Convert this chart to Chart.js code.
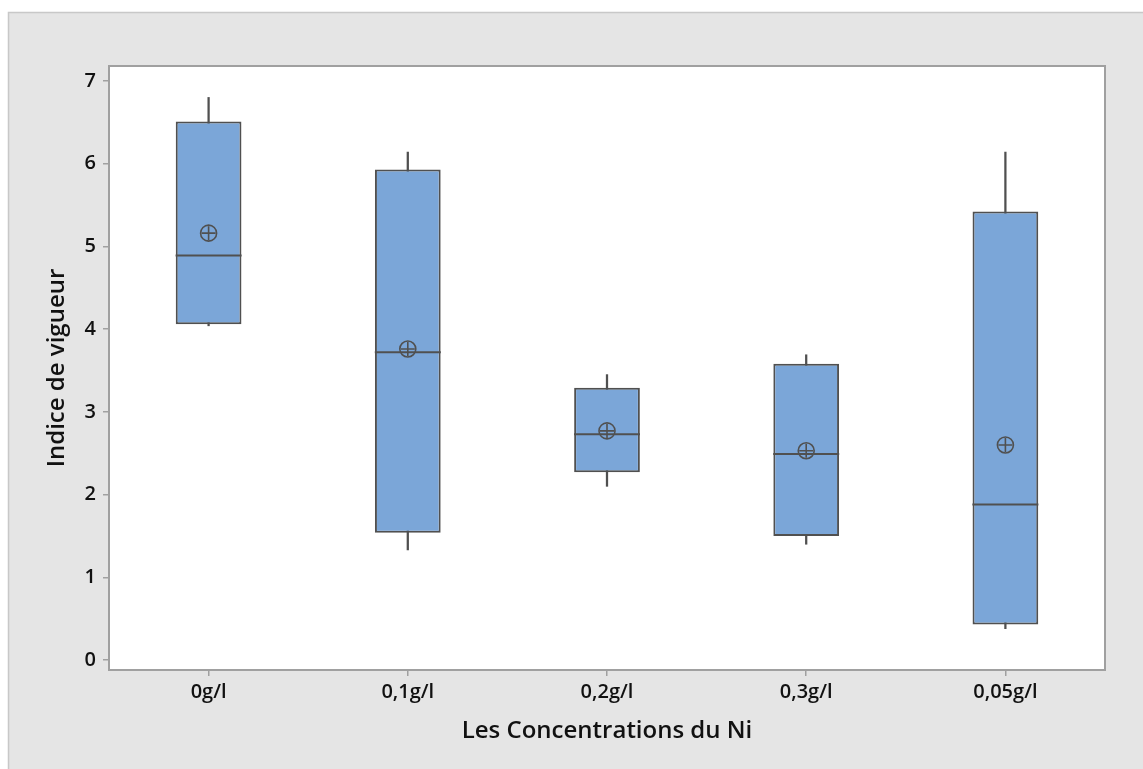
<!DOCTYPE html>
<html><head><meta charset="utf-8">
<script src="https://cdn.jsdelivr.net/npm/chart.js@4"></script>
<style>html,body{margin:0;padding:0;background:#fff}canvas{display:block}</style>
</head><body>
<canvas id="c" width="1143" height="769"></canvas>
<script>
const categories = ['0g/l', '0,1g/l', '0,2g/l', '0,3g/l', '0,05g/l'];
const whiskerMin = [4.04, 1.33, 2.10, 1.40, 0.38];
const q1 = [4.06, 1.54, 2.27, 1.50, 0.43];
const median = [4.89, 3.72, 2.73, 2.49, 1.88];
const q3 = [6.51, 5.93, 3.29, 3.58, 5.42];
const whiskerMax = [6.80, 6.14, 3.45, 3.69, 6.14];
const means = [5.16, 3.76, 2.77, 2.53, 2.60];
const yTicks = [0, 1, 2, 3, 4, 5, 6, 7];

const EDGE = '#505050';
const FILL = '#7ba6d8';

const backdrop = {
  id: 'backdrop',
  beforeDraw(chart) {
    const {ctx, width, height, chartArea: a} = chart;
    ctx.save();
    ctx.fillStyle = '#ffffff';
    ctx.fillRect(0, 0, width, height);
    ctx.fillStyle = '#e5e5e5';
    ctx.fillRect(8, 12, width, height);
    ctx.strokeStyle = '#c8c8c8';
    ctx.lineWidth = 1.5;
    ctx.beginPath();
    ctx.moveTo(8.5, height); ctx.lineTo(8.5, 12.5); ctx.lineTo(width, 12.5);
    ctx.stroke();
    ctx.fillStyle = '#ffffff';
    ctx.fillRect(a.left, a.top, a.right - a.left, a.bottom - a.top);
    ctx.restore();
  },
  afterDraw(chart) {
    const {ctx, chartArea: a} = chart;
    ctx.save();
    ctx.strokeStyle = '#a0a0a0';
    ctx.lineWidth = 2;
    ctx.strokeRect(a.left, a.top, a.right - a.left, a.bottom - a.top);
    ctx.restore();
  }
};

const tickFont = {family: "'Open Sans', 'Noto Sans', sans-serif", size: 20, weight: '600'};
const titleFont = {family: "'Open Sans', 'Noto Sans', sans-serif", size: 24, weight: '600'};

new Chart(document.getElementById('c'), {
  type: 'bar',
  data: {
    labels: categories,
    datasets: [
      {
        type: 'line', data: means, showLine: false, pointStyle: 'cross',
        pointRadius: 7, pointBorderWidth: 1.6, pointBorderColor: EDGE, order: 0
      },
      {
        type: 'line', data: means, showLine: false, pointStyle: 'circle',
        pointRadius: 8, pointBorderWidth: 1.6, pointBorderColor: EDGE,
        pointBackgroundColor: 'rgba(0,0,0,0)', order: 0
      },
      {
        type: 'line', data: median, showLine: false, pointStyle: 'line',
        pointRadius: 33, pointBorderWidth: 2, pointBorderColor: EDGE, order: 1
      },
      {
        type: 'bar', data: q1.map((v, i) => [v, q3[i]]), grouped: false,
        backgroundColor: FILL, borderColor: EDGE, borderWidth: 2, borderSkipped: false,
        barPercentage: 0.33, categoryPercentage: 1, order: 2
      },
      {
        type: 'bar', data: whiskerMin.map((v, i) => [v, whiskerMax[i]]), grouped: false,
        backgroundColor: EDGE, borderWidth: 0, barThickness: 1.6, order: 3
      }
    ]
  },
  options: {
    responsive: false,
    animation: false,
    events: [],
    layout: {padding: {left: 0, top: 66, right: 38, bottom: 0}},
    plugins: {legend: {display: false}, tooltip: {enabled: false}},
    scales: {
      x: {
        offset: true,
        grid: {display: true, offset: false, drawOnChartArea: false, drawTicks: true, tickLength: 6, color: '#a0a0a0', lineWidth: 1.5},
        border: {display: false},
        ticks: {font: tickFont, color: '#111111', padding: 4, maxRotation: 0},
        title: {display: true, text: 'Les Concentrations du Ni', font: titleFont, color: '#111111', padding: {top: 0, bottom: 23.6}},
        afterFit(s) { s.height = 99; }
      },
      y: {
        min: -0.12, max: 7.18,
        afterBuildTicks(s) { s.ticks = yTicks.map(v => ({value: v})); },
        grid: {display: true, drawOnChartArea: false, drawTicks: true, tickLength: 6, color: '#a0a0a0', lineWidth: 1.5},
        border: {display: false},
        ticks: {font: tickFont, color: '#111111', padding: 7},
        title: {display: true, text: 'Indice de vigueur', font: titleFont, color: '#111111', padding: {top: 42.6, bottom: 0}},
        afterFit(s) { s.width = 109; }
      }
    }
  },
  plugins: [backdrop]
});
</script>
</body></html>
